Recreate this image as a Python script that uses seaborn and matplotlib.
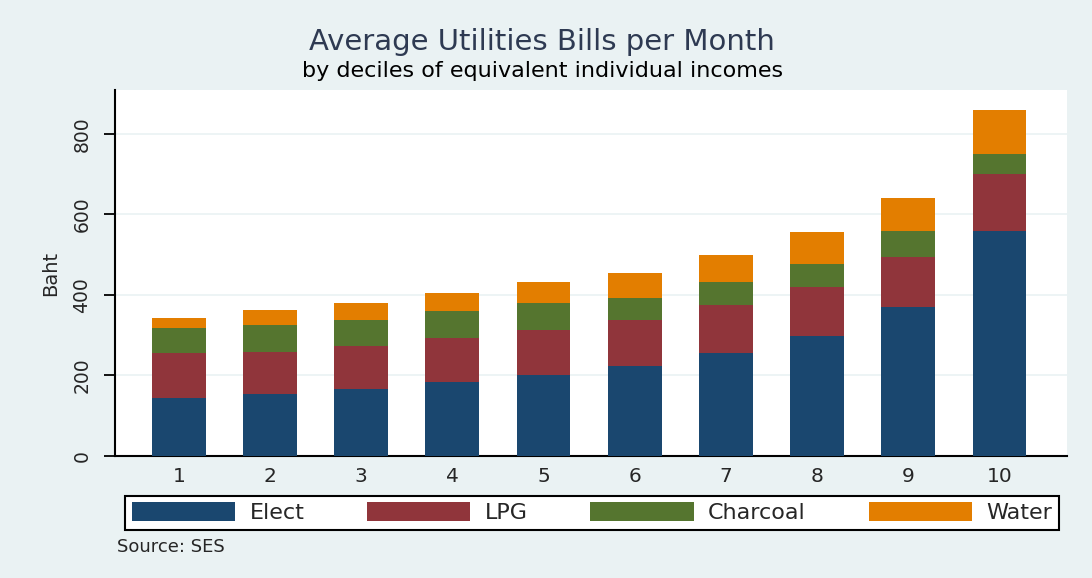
import numpy as np
import pandas as pd
import matplotlib
matplotlib.use("Agg")
import matplotlib.pyplot as plt
import seaborn as sns
from matplotlib.patches import Patch

deciles = ["1", "2", "3", "4", "5", "6", "7", "8", "9", "10"]
elect = [144, 153, 166, 183, 202, 224, 255, 299, 371, 558]
lpg = [111, 106, 107, 111, 111, 115, 120, 120, 124, 142]
charcoal = [62, 67, 66, 67, 66, 54, 58, 58, 63, 49]
water = [26, 36, 41, 45, 54, 62, 67, 80, 84, 111]
series_names = ["Elect", "LPG", "Charcoal", "Water"]
colors = ["#1A476F", "#90353B", "#55752F", "#E37E00"]
yticks = [0, 200, 400, 600, 800]

sns.set_theme(style="white")
plt.rcParams["font.family"] = ["DejaVu Sans"]

bg = "#EAF2F3"
fig = plt.figure(figsize=(10.92, 5.78), dpi=100, facecolor=bg)
ax = fig.add_axes([115 / 1092, 1 - 456 / 578, (1067 - 115) / 1092, (456 - 90) / 578])
ax.set_facecolor("white")

df = pd.DataFrame({"decile": deciles, "Elect": elect, "LPG": lpg,
                   "Charcoal": charcoal, "Water": water})
cum = df[series_names].cumsum(axis=1)
for name, col in reversed(list(zip(series_names, colors))):
    sns.barplot(x=df["decile"], y=cum[name], order=deciles, color=col,
                width=0.59, saturation=1, ax=ax, edgecolor="none", linewidth=0,
                zorder=3)

ax.set_xlim(-0.70, 9.74)
ax.set_ylim(0, 909)
ax.set_yticks(yticks)
ax.set_yticklabels([str(v) for v in yticks], rotation=90, va="center", fontsize=13.5)
ax.tick_params(axis="y", length=8, width=1.3, color="black", pad=9, left=True)
ax.tick_params(axis="x", length=0, pad=8, labelsize=14.5)
ax.set_xlabel("")
ax.set_ylabel("Baht", fontsize=14)
ax.yaxis.set_label_coords((60 - 115) / 952, 0.5)
ax.yaxis.grid(True, color=bg, linewidth=1.2, zorder=0)
ax.xaxis.grid(False)
for s in ["top", "right"]:
    ax.spines[s].set_visible(False)
for s in ["left", "bottom"]:
    ax.spines[s].set_color("black")
    ax.spines[s].set_linewidth(1.5)

fig.text(542 / 1092, 1 - 42 / 578, "Average Utilities Bills per Month",
         ha="center", va="center", fontsize=21, color="#2E3A52")
fig.text(543 / 1092, 1 - 71 / 578, "by deciles of equivalent individual incomes",
         ha="center", va="center", fontsize=16, color="black")

handles = [Patch(facecolor=c, edgecolor="none", label=n) for n, c in zip(series_names, colors)]
leg = fig.legend(handles=handles, loc="lower left", ncol=4,
                 bbox_to_anchor=(125 / 1092, 1 - 530 / 578, 934 / 1092, 37 / 578),
                 mode="expand", borderaxespad=0, fontsize=16, handlelength=4.65,
                 handleheight=0.9, handletextpad=0.65, frameon=True, fancybox=False,
                 borderpad=0.3, framealpha=1)
leg.get_frame().set_edgecolor("black")
leg.get_frame().set_linewidth(1.5)
leg.get_frame().set_facecolor("white")

fig.text(117 / 1092, 1 - 547 / 578, "Source: SES", ha="left", va="center", fontsize=13)

fig.savefig("out.png", dpi=100, facecolor=bg)
